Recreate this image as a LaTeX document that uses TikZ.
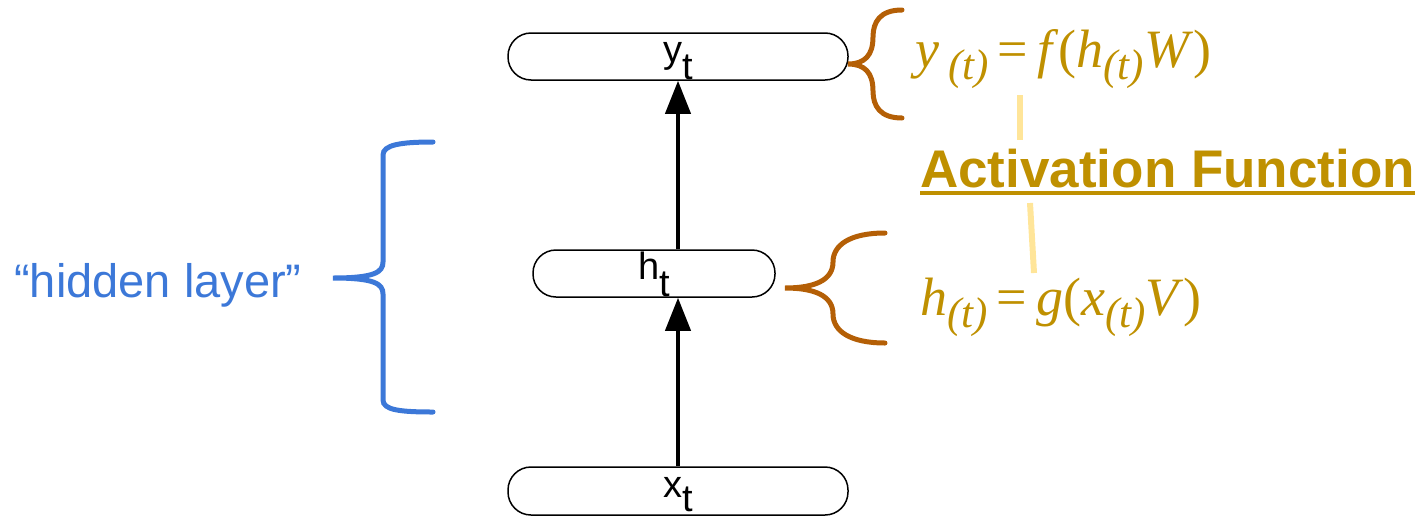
\documentclass[tikz,border=0pt]{standalone}
\usepackage{fontspec}
\setmainfont{Liberation Serif}
\newfontfamily\arialfont{Liberation Sans}
\usetikzlibrary{arrows.meta,calc}
\definecolor{hlblue}{HTML}{3C78D8}
\definecolor{brorange}{HTML}{B45F06}
\definecolor{eqgold}{HTML}{BF9000}
\definecolor{paleyel}{HTML}{FFE599}
\newcommand{\eqsub}[1]{\raisebox{-12pt}{\fontsize{43}{50}\selectfont\itshape #1}}
\newcommand{\boxsub}[2][17pt]{\raisebox{-#1}{#2}}
\tikzset{
  layerbox/.style={draw=black, line width=1.5pt, rectangle, rounded corners=23pt,
    minimum height=47pt, inner sep=0pt, text height=12pt, text depth=0pt,
    font=\arialfont\fontsize{38}{40}\selectfont},
  arr/.style={line width=4pt, -{Triangle[length=33pt,width=25pt]}},
  orbrace/.style={draw=brorange, line width=5pt, line cap=round},
  blbrace/.style={draw=hlblue, line width=5pt, line cap=round},
  eqtext/.style={text=eqgold, inner sep=0pt, anchor=base west, font=\fontsize{54}{60}\selectfont},
  yelline/.style={draw=paleyel, line width=6pt},
}
\begin{document}
\begin{tikzpicture}[x=1pt,y=-1pt]
\useasboundingbox (0,0) rectangle (1426,517);
% layer boxes
\node[layerbox, minimum width=340pt] (yb) at (678,56.5) {y\boxsub{t}};
\node[layerbox, minimum width=242pt] (hb) at (654,273.5) {h\boxsub{t}};
\node[layerbox, minimum width=340pt, minimum height=48pt] (xb) at (678,491) {x\boxsub[14pt]{t}};
% arrows
\draw[arr] (xb.north) -- (xb.north |- hb.south);
\draw[arr] (yb.south |- hb.north) -- (yb.south);
% orange braces
\draw[orbrace] (902,10) .. controls (880,10) and (873,22) .. (873,37)
  .. controls (873,55) and (865,64) .. (848,64)
  .. controls (865,64) and (873,73) .. (873,91)
  .. controls (873,106) and (880,118) .. (902,118);
\draw[orbrace] (885,233) .. controls (850,233) and (833,245) .. (833,262)
  .. controls (833,280) and (815,288) .. (785,288)
  .. controls (815,288) and (833,296) .. (833,314)
  .. controls (833,331) and (850,343) .. (885,343);
% blue brace
\draw[blbrace] (433,142) .. controls (400,142) and (383,145) .. (383,155) -- (383,262)
  .. controls (383,272) and (375,278) .. (333,278)
  .. controls (375,278) and (383,284) .. (383,294) -- (383,400)
  .. controls (383,410) and (400,412) .. (433,412);
% hidden layer label
\node[text=hlblue, inner sep=0pt, anchor=base, font=\arialfont\fontsize{47}{50}\selectfont] (hl) at (158,297) {“hidden layer”};
% equations
\node[eqtext] (eqy) at (915,67) {\textit{y}\,\eqsub{(t)}\,=\,\textit{f}(\textit{h}\eqsub{(t)}\textit{W})};
\node[eqtext] (eqh) at (920,315) {\textit{h}\eqsub{(t)}\,=\,\textit{g}(\textit{x}\eqsub{(t)}\textit{V})};
% activation function
\node[text=eqgold, inner sep=0pt, anchor=base west, font=\arialfont\bfseries\fontsize{53}{56}\selectfont] (af) at (920,187) {Activation Function};
\draw[draw=eqgold, line width=4.5pt] ($(af.base west)+(0,6)$) -- ($(af.base east)+(0,6)$);
% pale connectors
\coordinate (c1a) at (1020,95);
\coordinate (c1b) at (1020,140);
\coordinate (c2a) at (1030,203);
\coordinate (c2b) at (1034,273);
\draw[yelline] (c1a) -- (c1b);
\draw[yelline] (c2a) -- (c2b);
\end{tikzpicture}
\end{document}
